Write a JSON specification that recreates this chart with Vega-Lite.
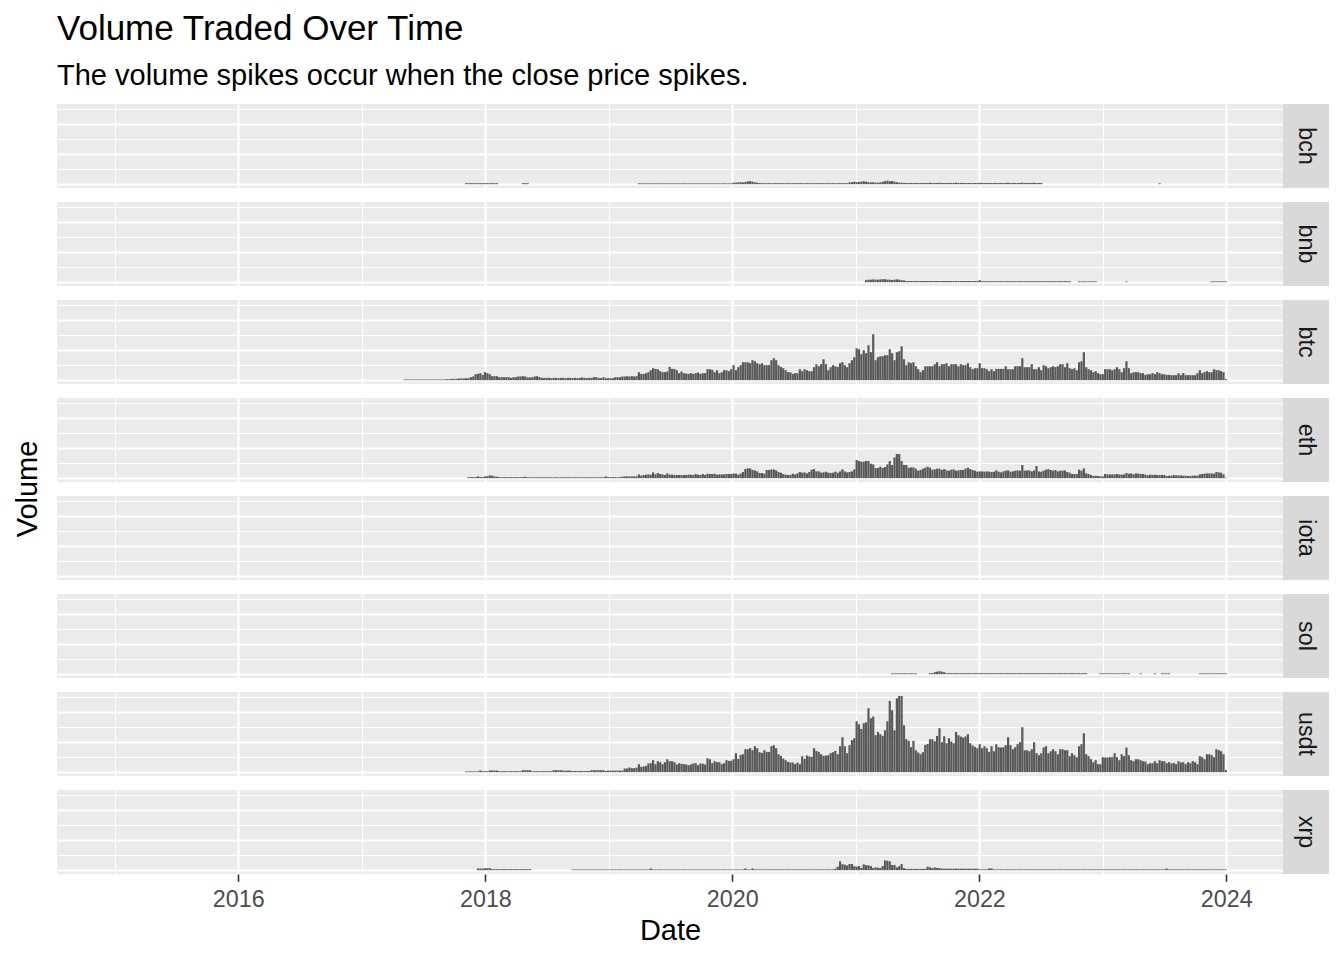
{
"$schema": "https://vega.github.io/schema/vega-lite/v6.json",
"padding": {"left": 13, "top": 12, "right": 15, "bottom": 10},
"title": {"text": "Volume Traded Over Time", "subtitle": "The volume spikes occur when the close price spikes.", "anchor": "start", "frame": "bounds", "dx": 44, "fontSize": 35, "fontWeight": "normal", "color": "#000000", "subtitleFontSize": 29, "subtitleColor": "#000000", "subtitlePadding": 15, "offset": 13},
"config": {
"font": "Liberation Sans",
"view": {"fill": "#EBEBEB", "stroke": null},
"axis": {"domain": false, "gridColor": "#FFFFFF", "labelColor": "#4D4D4D", "labelFontSize": 23.3, "tickColor": "#333333", "tickSize": 7.3, "tickWidth": 1.6, "labelPadding": 7, "labelFlush": false, "labelOverlap": false, "titleFontSize": 29, "titleFontWeight": "normal", "titleColor": "#000000", "titlePadding": 6}
},
"datasets": {
"bch": [{"d":"2017-11-05","v":1},{"d":"2017-11-12","v":1},{"d":"2017-11-19","v":1},{"d":"2017-11-26","v":1},{"d":"2017-12-03","v":1},{"d":"2017-12-10","v":1},{"d":"2017-12-17","v":1},{"d":"2017-12-24","v":1},{"d":"2017-12-31","v":1},{"d":"2018-01-07","v":1},{"d":"2018-01-14","v":1},{"d":"2018-01-21","v":1},{"d":"2018-01-28","v":1},{"d":"2018-02-04","v":1},
{"d":"2018-04-22","v":1},{"d":"2018-04-29","v":1},{"d":"2018-05-06","v":1},
{"d":"2019-03-31","v":0.8},{"d":"2019-04-07","v":0.8},{"d":"2019-04-14","v":0.8},{"d":"2019-04-21","v":0.8},{"d":"2019-04-28","v":0.8},{"d":"2019-05-05","v":0.8},{"d":"2019-05-12","v":0.8},{"d":"2019-05-19","v":0.8},{"d":"2019-05-26","v":0.8},{"d":"2019-06-02","v":0.8},{"d":"2019-06-09","v":0.8},{"d":"2019-06-16","v":0.8},{"d":"2019-06-23","v":0.8},{"d":"2019-06-30","v":0.8},{"d":"2019-07-07","v":0.8},{"d":"2019-07-14","v":0.8},{"d":"2019-07-21","v":0.8},{"d":"2019-07-28","v":0.8},{"d":"2019-08-04","v":0.8},{"d":"2019-08-11","v":0.8},{"d":"2019-08-18","v":0.8},{"d":"2019-08-25","v":0.8},{"d":"2019-09-01","v":0.8},{"d":"2019-09-08","v":0.8},{"d":"2019-09-15","v":0.8},{"d":"2019-09-22","v":0.8},{"d":"2019-09-29","v":0.8},{"d":"2019-10-06","v":0.8},{"d":"2019-10-13","v":0.8},{"d":"2019-10-20","v":0.8},{"d":"2019-10-27","v":0.8},{"d":"2019-11-03","v":0.8},{"d":"2019-11-10","v":0.8},{"d":"2019-11-17","v":0.8},{"d":"2019-11-24","v":0.8},{"d":"2019-12-01","v":0.8},{"d":"2019-12-08","v":0.8},{"d":"2019-12-15","v":0.8},{"d":"2019-12-22","v":0.8},{"d":"2019-12-29","v":0.8},
{"d":"2020-01-05","v":1.5},{"d":"2020-01-12","v":1.5},{"d":"2020-01-19","v":1.8},{"d":"2020-01-26","v":2},{"d":"2020-02-02","v":1.8},{"d":"2020-02-09","v":2.2},{"d":"2020-02-16","v":2.8},{"d":"2020-02-23","v":3},{"d":"2020-03-01","v":2.5},{"d":"2020-03-08","v":1.8},{"d":"2020-03-15","v":1.5},{"d":"2020-03-22","v":1.2},
{"d":"2020-03-29","v":1},{"d":"2020-04-05","v":1},{"d":"2020-04-12","v":1},{"d":"2020-04-19","v":1},{"d":"2020-04-26","v":1},{"d":"2020-05-03","v":1},{"d":"2020-05-10","v":1},{"d":"2020-05-17","v":1},{"d":"2020-05-24","v":1},{"d":"2020-05-31","v":1},{"d":"2020-06-07","v":1},{"d":"2020-06-14","v":1},{"d":"2020-06-21","v":1},{"d":"2020-06-28","v":1},{"d":"2020-07-05","v":1},{"d":"2020-07-12","v":1},{"d":"2020-07-19","v":1},{"d":"2020-07-26","v":1},{"d":"2020-08-02","v":1},{"d":"2020-08-09","v":1},{"d":"2020-08-16","v":1},{"d":"2020-08-23","v":1},{"d":"2020-08-30","v":1},{"d":"2020-09-06","v":1},{"d":"2020-09-13","v":1},{"d":"2020-09-20","v":1},{"d":"2020-09-27","v":1},{"d":"2020-10-04","v":1},{"d":"2020-10-11","v":1},{"d":"2020-10-18","v":1},{"d":"2020-10-25","v":1},{"d":"2020-11-01","v":1},{"d":"2020-11-08","v":1},{"d":"2020-11-15","v":1},{"d":"2020-11-22","v":1},{"d":"2020-11-29","v":1},{"d":"2020-12-06","v":1},
{"d":"2020-12-13","v":1.8},{"d":"2020-12-20","v":2},{"d":"2020-12-27","v":2.5},{"d":"2021-01-03","v":2},{"d":"2021-01-10","v":2.2},{"d":"2021-01-17","v":2.5},{"d":"2021-01-24","v":3},{"d":"2021-01-31","v":2.5},{"d":"2021-02-07","v":2},{"d":"2021-02-14","v":1.8},{"d":"2021-02-21","v":2},{"d":"2021-02-28","v":1.5},{"d":"2021-03-07","v":1.5},{"d":"2021-03-14","v":1.8},{"d":"2021-03-21","v":2.5},{"d":"2021-03-28","v":3},{"d":"2021-04-04","v":3.5},{"d":"2021-04-11","v":3},{"d":"2021-04-18","v":3.2},{"d":"2021-04-25","v":2.5},{"d":"2021-05-02","v":2},{"d":"2021-05-09","v":1.5},{"d":"2021-05-16","v":1.5},{"d":"2021-05-23","v":1.3},
{"d":"2021-05-30","v":1.2},{"d":"2021-06-06","v":1.2},{"d":"2021-06-13","v":1.2},{"d":"2021-06-20","v":1.2},{"d":"2021-06-27","v":1.2},{"d":"2021-07-04","v":1.2},{"d":"2021-07-11","v":1.2},{"d":"2021-07-18","v":1.2},{"d":"2021-07-25","v":1.2},{"d":"2021-08-01","v":1.2},{"d":"2021-08-08","v":1.5},{"d":"2021-08-15","v":1.2},{"d":"2021-08-22","v":1.2},{"d":"2021-08-29","v":1.2},{"d":"2021-09-05","v":1.5},{"d":"2021-09-12","v":1.2},{"d":"2021-09-19","v":1.2},{"d":"2021-09-26","v":1.2},{"d":"2021-10-03","v":1.2},{"d":"2021-10-10","v":1.2},{"d":"2021-10-17","v":1.2},{"d":"2021-10-24","v":1.5},{"d":"2021-10-31","v":1.2},{"d":"2021-11-07","v":1.2},{"d":"2021-11-14","v":1.2},{"d":"2021-11-21","v":1.2},{"d":"2021-11-28","v":1.2},{"d":"2021-12-05","v":1.2},{"d":"2021-12-12","v":1.2},{"d":"2021-12-19","v":1.2},{"d":"2021-12-26","v":1.2},{"d":"2022-01-02","v":1.5},{"d":"2022-01-09","v":1.2},{"d":"2022-01-16","v":1.2},{"d":"2022-01-23","v":1.2},{"d":"2022-01-30","v":1.2},{"d":"2022-02-06","v":1.2},{"d":"2022-02-13","v":1.2},{"d":"2022-02-20","v":1.2},{"d":"2022-02-27","v":1.2},{"d":"2022-03-06","v":1.2},{"d":"2022-03-13","v":1.2},{"d":"2022-03-20","v":1.2},{"d":"2022-03-27","v":1.5},{"d":"2022-04-03","v":1.2},{"d":"2022-04-10","v":1.2},{"d":"2022-04-17","v":1.2},{"d":"2022-04-24","v":1.2},{"d":"2022-05-01","v":1.2},{"d":"2022-05-08","v":1.5},{"d":"2022-05-15","v":1.2},{"d":"2022-05-22","v":1.2},{"d":"2022-05-29","v":1.2},{"d":"2022-06-05","v":1.2},{"d":"2022-06-12","v":1.5},{"d":"2022-06-19","v":1.2},{"d":"2022-06-26","v":1.2},{"d":"2022-07-03","v":1.2},
{"d":"2023-06-18","v":0.8}],
"bnb": [{"d":"2021-01-31","v":2},{"d":"2021-02-07","v":2.5},{"d":"2021-02-14","v":2.5},{"d":"2021-02-21","v":2.8},{"d":"2021-02-28","v":2.5},{"d":"2021-03-07","v":2.5},{"d":"2021-03-14","v":2.8},{"d":"2021-03-21","v":3},{"d":"2021-03-28","v":3},{"d":"2021-04-04","v":2.5},{"d":"2021-04-11","v":2.5},{"d":"2021-04-18","v":2.2},{"d":"2021-04-25","v":2.5},{"d":"2021-05-02","v":2.8},{"d":"2021-05-09","v":2.5},{"d":"2021-05-16","v":2},{"d":"2021-05-23","v":1.8},
{"d":"2021-05-30","v":1.2},{"d":"2021-06-06","v":1.2},{"d":"2021-06-13","v":1.2},{"d":"2021-06-20","v":1.2},{"d":"2021-06-27","v":1.2},{"d":"2021-07-04","v":1.2},{"d":"2021-07-11","v":1.2},{"d":"2021-07-18","v":1.2},{"d":"2021-07-25","v":1.2},{"d":"2021-08-01","v":1.2},{"d":"2021-08-08","v":1.2},{"d":"2021-08-15","v":1.2},{"d":"2021-08-22","v":1.2},{"d":"2021-08-29","v":1.2},{"d":"2021-09-05","v":1.2},{"d":"2021-09-12","v":1.2},{"d":"2021-09-19","v":1.2},{"d":"2021-09-26","v":1.2},{"d":"2021-10-03","v":1.2},{"d":"2021-10-10","v":1.2},{"d":"2021-10-17","v":1.2},{"d":"2021-10-24","v":1.2},{"d":"2021-10-31","v":1.2},{"d":"2021-11-07","v":1.2},{"d":"2021-11-14","v":1.2},{"d":"2021-11-21","v":1.2},{"d":"2021-11-28","v":1.2},{"d":"2021-12-05","v":1.2},{"d":"2021-12-12","v":1.2},{"d":"2021-12-19","v":1.2},{"d":"2021-12-26","v":1.2},
{"d":"2022-01-02","v":2},{"d":"2022-01-09","v":1},{"d":"2022-01-16","v":1},{"d":"2022-01-23","v":1},{"d":"2022-01-30","v":1},{"d":"2022-02-06","v":1},{"d":"2022-02-13","v":1},{"d":"2022-02-20","v":1},{"d":"2022-02-27","v":1},{"d":"2022-03-06","v":1},{"d":"2022-03-13","v":1},{"d":"2022-03-20","v":1},{"d":"2022-03-27","v":1},{"d":"2022-04-03","v":1},{"d":"2022-04-10","v":1},{"d":"2022-04-17","v":1},{"d":"2022-04-24","v":1},{"d":"2022-05-01","v":1},{"d":"2022-05-08","v":1},{"d":"2022-05-15","v":1},{"d":"2022-05-22","v":1},{"d":"2022-05-29","v":1},{"d":"2022-06-05","v":1},{"d":"2022-06-12","v":1},{"d":"2022-06-19","v":1},{"d":"2022-06-26","v":1},{"d":"2022-07-03","v":1},{"d":"2022-07-10","v":1},{"d":"2022-07-17","v":1},{"d":"2022-07-24","v":1},{"d":"2022-07-31","v":1},{"d":"2022-08-07","v":1},{"d":"2022-08-14","v":1},{"d":"2022-08-21","v":1},{"d":"2022-08-28","v":1},{"d":"2022-09-04","v":1},{"d":"2022-09-11","v":1},{"d":"2022-09-18","v":1},{"d":"2022-09-25","v":1},
{"d":"2022-10-23","v":0.8},{"d":"2022-10-30","v":0.8},{"d":"2022-11-06","v":0.8},{"d":"2022-11-13","v":0.8},{"d":"2022-11-20","v":0.8},{"d":"2022-11-27","v":0.8},{"d":"2022-12-04","v":0.8},{"d":"2022-12-11","v":0.8},
{"d":"2023-03-12","v":0.8},
{"d":"2023-11-19","v":0.8},{"d":"2023-11-26","v":0.8},{"d":"2023-12-03","v":0.8},{"d":"2023-12-10","v":0.8},{"d":"2023-12-17","v":0.8},{"d":"2023-12-24","v":0.8},{"d":"2023-12-31","v":0.8}],
"btc": [{"d":"2017-05-07","v":0.7},{"d":"2017-05-14","v":0.7},{"d":"2017-05-21","v":0.7},{"d":"2017-05-28","v":0.7},{"d":"2017-06-04","v":0.7},{"d":"2017-06-11","v":0.7},{"d":"2017-06-18","v":0.7},{"d":"2017-06-25","v":0.7},{"d":"2017-07-02","v":0.7},{"d":"2017-07-09","v":0.7},{"d":"2017-07-16","v":0.7},{"d":"2017-07-23","v":0.7},{"d":"2017-07-30","v":0.7},{"d":"2017-08-06","v":0.7},{"d":"2017-08-13","v":0.7},{"d":"2017-08-20","v":0.7},{"d":"2017-08-27","v":0.7},{"d":"2017-09-03","v":0.7},{"d":"2017-09-10","v":1},{"d":"2017-09-17","v":1},{"d":"2017-09-24","v":1.3},{"d":"2017-10-01","v":1.3},{"d":"2017-10-08","v":1.3},{"d":"2017-10-15","v":1.7},{"d":"2017-10-22","v":1.7},{"d":"2017-10-29","v":1.7},
{"d":"2017-11-05","v":2},{"d":"2017-11-12","v":2},{"d":"2017-11-19","v":3},{"d":"2017-11-26","v":3.7},{"d":"2017-12-03","v":6},{"d":"2017-12-10","v":6.3},{"d":"2017-12-17","v":7},{"d":"2017-12-24","v":5.3},{"d":"2017-12-31","v":8},
{"d":"2018-01-07","v":7},{"d":"2018-01-14","v":6},{"d":"2018-01-21","v":4},{"d":"2018-01-28","v":4},{"d":"2018-02-04","v":4},{"d":"2018-02-11","v":3},{"d":"2018-02-18","v":3},{"d":"2018-02-25","v":3},{"d":"2018-03-04","v":3},{"d":"2018-03-11","v":3},{"d":"2018-03-18","v":2.3},{"d":"2018-03-25","v":3},{"d":"2018-04-01","v":3},{"d":"2018-04-08","v":3.7},{"d":"2018-04-15","v":3.7},{"d":"2018-04-22","v":4},{"d":"2018-04-29","v":3.7},{"d":"2018-05-06","v":2.7},{"d":"2018-05-13","v":2.7},{"d":"2018-05-20","v":3},{"d":"2018-05-27","v":3.7},{"d":"2018-06-03","v":4},{"d":"2018-06-10","v":3},{"d":"2018-06-17","v":2.3},{"d":"2018-06-24","v":2.3},{"d":"2018-07-01","v":2.3},{"d":"2018-07-08","v":2.3},{"d":"2018-07-15","v":2},{"d":"2018-07-22","v":2.3},{"d":"2018-07-29","v":2.3},{"d":"2018-08-05","v":2},{"d":"2018-08-12","v":2.3},{"d":"2018-08-19","v":2.3},{"d":"2018-08-26","v":2},{"d":"2018-09-02","v":2.3},{"d":"2018-09-09","v":2.3},{"d":"2018-09-16","v":2},{"d":"2018-09-23","v":2.3},{"d":"2018-09-30","v":2},{"d":"2018-10-07","v":2.3},{"d":"2018-10-14","v":2.7},{"d":"2018-10-21","v":2.3},{"d":"2018-10-28","v":2},{"d":"2018-11-04","v":2.3},{"d":"2018-11-11","v":2.3},{"d":"2018-11-18","v":3},{"d":"2018-11-25","v":3},{"d":"2018-12-02","v":2.3},{"d":"2018-12-09","v":2},{"d":"2018-12-16","v":3},{"d":"2018-12-23","v":2},{"d":"2018-12-30","v":2},
{"d":"2019-01-06","v":2},{"d":"2019-01-13","v":2},{"d":"2019-01-20","v":3},{"d":"2019-01-27","v":3},{"d":"2019-02-03","v":3},{"d":"2019-02-10","v":3.7},{"d":"2019-02-17","v":3.7},{"d":"2019-02-24","v":4},{"d":"2019-03-03","v":3.7},{"d":"2019-03-10","v":4},{"d":"2019-03-17","v":3.7},{"d":"2019-03-24","v":4},{"d":"2019-03-31","v":8},{"d":"2019-04-07","v":6.3},{"d":"2019-04-14","v":6.3},{"d":"2019-04-21","v":7},{"d":"2019-04-28","v":8},{"d":"2019-05-05","v":10},{"d":"2019-05-12","v":12},{"d":"2019-05-19","v":11.3},{"d":"2019-05-26","v":11},{"d":"2019-06-02","v":9},{"d":"2019-06-09","v":8},{"d":"2019-06-16","v":8},{"d":"2019-06-23","v":8.7},{"d":"2019-06-30","v":13.3},{"d":"2019-07-07","v":11.3},{"d":"2019-07-14","v":11.3},{"d":"2019-07-21","v":10},{"d":"2019-07-28","v":7},{"d":"2019-08-04","v":8.7},{"d":"2019-08-11","v":7},{"d":"2019-08-18","v":6.7},{"d":"2019-08-25","v":6.3},{"d":"2019-09-01","v":7},{"d":"2019-09-08","v":6.3},{"d":"2019-09-15","v":7},{"d":"2019-09-22","v":7.7},{"d":"2019-09-29","v":6.3},{"d":"2019-10-06","v":7},{"d":"2019-10-13","v":7},{"d":"2019-10-20","v":11},{"d":"2019-10-27","v":11},{"d":"2019-11-03","v":10.3},{"d":"2019-11-10","v":8},{"d":"2019-11-17","v":10},{"d":"2019-11-24","v":7},{"d":"2019-12-01","v":8},{"d":"2019-12-08","v":10},{"d":"2019-12-15","v":10},{"d":"2019-12-22","v":9},{"d":"2019-12-29","v":11},
{"d":"2020-01-05","v":15},{"d":"2020-01-12","v":10},{"d":"2020-01-19","v":13},{"d":"2020-01-26","v":15},{"d":"2020-02-02","v":18},{"d":"2020-02-09","v":18},{"d":"2020-02-16","v":18},{"d":"2020-02-23","v":17},{"d":"2020-03-01","v":20},{"d":"2020-03-08","v":19},{"d":"2020-03-15","v":17},{"d":"2020-03-22","v":16},{"d":"2020-03-29","v":17},{"d":"2020-04-05","v":15},{"d":"2020-04-12","v":15},{"d":"2020-04-19","v":15},{"d":"2020-04-26","v":20},{"d":"2020-05-03","v":22},{"d":"2020-05-10","v":20},{"d":"2020-05-17","v":15},{"d":"2020-05-24","v":13.3},{"d":"2020-05-31","v":12},{"d":"2020-06-07","v":10},{"d":"2020-06-14","v":8},{"d":"2020-06-21","v":8},{"d":"2020-06-28","v":6.3},{"d":"2020-07-05","v":7},{"d":"2020-07-12","v":7},{"d":"2020-07-19","v":11},{"d":"2020-07-26","v":9},{"d":"2020-08-02","v":11},{"d":"2020-08-09","v":10},{"d":"2020-08-16","v":9},{"d":"2020-08-23","v":9},{"d":"2020-08-30","v":13},{"d":"2020-09-06","v":16},{"d":"2020-09-13","v":14},{"d":"2020-09-20","v":16},{"d":"2020-09-27","v":21},{"d":"2020-10-04","v":16},{"d":"2020-10-11","v":10},{"d":"2020-10-18","v":13},{"d":"2020-10-25","v":15},{"d":"2020-11-01","v":14},{"d":"2020-11-08","v":13.3},{"d":"2020-11-15","v":17},{"d":"2020-11-22","v":18},{"d":"2020-11-29","v":15},{"d":"2020-12-06","v":13},{"d":"2020-12-13","v":17},{"d":"2020-12-20","v":20},{"d":"2020-12-27","v":23},
{"d":"2021-01-03","v":32},{"d":"2021-01-10","v":31},{"d":"2021-01-17","v":26},{"d":"2021-01-24","v":30},{"d":"2021-01-31","v":27},{"d":"2021-02-07","v":35},{"d":"2021-02-14","v":28},{"d":"2021-02-21","v":46},{"d":"2021-02-28","v":20},{"d":"2021-03-07","v":23},{"d":"2021-03-14","v":24},{"d":"2021-03-21","v":24},{"d":"2021-03-28","v":25},{"d":"2021-04-04","v":25},{"d":"2021-04-11","v":31},{"d":"2021-04-18","v":27},{"d":"2021-04-25","v":20},{"d":"2021-05-02","v":28},{"d":"2021-05-09","v":29},{"d":"2021-05-16","v":34},{"d":"2021-05-23","v":21},{"d":"2021-05-30","v":15},{"d":"2021-06-06","v":18},{"d":"2021-06-13","v":17},{"d":"2021-06-20","v":18},{"d":"2021-06-27","v":14},{"d":"2021-07-04","v":11},{"d":"2021-07-11","v":8},{"d":"2021-07-18","v":10},{"d":"2021-07-25","v":14},{"d":"2021-08-01","v":14},{"d":"2021-08-08","v":14},{"d":"2021-08-15","v":14},{"d":"2021-08-22","v":16},{"d":"2021-08-29","v":18},{"d":"2021-09-05","v":14},{"d":"2021-09-12","v":16},{"d":"2021-09-19","v":16},{"d":"2021-09-26","v":17},{"d":"2021-10-03","v":14},{"d":"2021-10-10","v":16},{"d":"2021-10-17","v":16},{"d":"2021-10-24","v":16},{"d":"2021-10-31","v":14},{"d":"2021-11-07","v":16},{"d":"2021-11-14","v":15},{"d":"2021-11-21","v":15},{"d":"2021-11-28","v":17},{"d":"2021-12-05","v":13},{"d":"2021-12-12","v":11},{"d":"2021-12-19","v":12},{"d":"2021-12-26","v":12},
{"d":"2022-01-02","v":17},{"d":"2022-01-09","v":12},{"d":"2022-01-16","v":12},{"d":"2022-01-23","v":11},{"d":"2022-01-30","v":9},{"d":"2022-02-06","v":11},{"d":"2022-02-13","v":9},{"d":"2022-02-20","v":11.3},{"d":"2022-02-27","v":11.3},{"d":"2022-03-06","v":11.3},{"d":"2022-03-13","v":11.3},{"d":"2022-03-20","v":14},{"d":"2022-03-27","v":11},{"d":"2022-04-03","v":11},{"d":"2022-04-10","v":11},{"d":"2022-04-17","v":14},{"d":"2022-04-24","v":14},{"d":"2022-05-01","v":14},{"d":"2022-05-08","v":22},{"d":"2022-05-15","v":13},{"d":"2022-05-22","v":13},{"d":"2022-05-29","v":13},{"d":"2022-06-05","v":16},{"d":"2022-06-12","v":11},{"d":"2022-06-19","v":11},{"d":"2022-06-26","v":13},{"d":"2022-07-03","v":10},{"d":"2022-07-10","v":15},{"d":"2022-07-17","v":14},{"d":"2022-07-24","v":12},{"d":"2022-07-31","v":13},{"d":"2022-08-07","v":14},{"d":"2022-08-14","v":13},{"d":"2022-08-21","v":14},{"d":"2022-08-28","v":16},{"d":"2022-09-04","v":16},{"d":"2022-09-11","v":13},{"d":"2022-09-18","v":17},{"d":"2022-09-25","v":12},{"d":"2022-10-02","v":11},{"d":"2022-10-09","v":12},{"d":"2022-10-16","v":10},{"d":"2022-10-23","v":18},{"d":"2022-10-30","v":19},{"d":"2022-11-06","v":28},{"d":"2022-11-13","v":13},{"d":"2022-11-20","v":11},{"d":"2022-11-27","v":10},{"d":"2022-12-04","v":8},{"d":"2022-12-11","v":9},{"d":"2022-12-18","v":7},{"d":"2022-12-25","v":6},
{"d":"2023-01-01","v":6},{"d":"2023-01-08","v":11},{"d":"2023-01-15","v":11},{"d":"2023-01-22","v":11},{"d":"2023-01-29","v":10},{"d":"2023-02-05","v":11},{"d":"2023-02-12","v":13},{"d":"2023-02-19","v":11},{"d":"2023-02-26","v":8},{"d":"2023-03-05","v":12},{"d":"2023-03-12","v":19},{"d":"2023-03-19","v":12},{"d":"2023-03-26","v":7},{"d":"2023-04-02","v":8},{"d":"2023-04-09","v":8},{"d":"2023-04-16","v":8},{"d":"2023-04-23","v":7},{"d":"2023-04-30","v":7},{"d":"2023-05-07","v":5.3},{"d":"2023-05-14","v":6},{"d":"2023-05-21","v":6},{"d":"2023-05-28","v":7},{"d":"2023-06-04","v":6},{"d":"2023-06-11","v":8},{"d":"2023-06-18","v":7},{"d":"2023-06-25","v":6},{"d":"2023-07-02","v":6},{"d":"2023-07-09","v":5.3},{"d":"2023-07-16","v":5.3},{"d":"2023-07-23","v":5},{"d":"2023-07-30","v":5},{"d":"2023-08-06","v":5},{"d":"2023-08-13","v":7},{"d":"2023-08-20","v":5},{"d":"2023-08-27","v":7},{"d":"2023-09-03","v":5},{"d":"2023-09-10","v":5},{"d":"2023-09-17","v":5},{"d":"2023-09-24","v":5},{"d":"2023-10-01","v":5},{"d":"2023-10-08","v":7},{"d":"2023-10-15","v":10},{"d":"2023-10-22","v":7},{"d":"2023-10-29","v":8},{"d":"2023-11-05","v":9},{"d":"2023-11-12","v":8},{"d":"2023-11-19","v":8},{"d":"2023-11-26","v":11},{"d":"2023-12-03","v":10},{"d":"2023-12-10","v":10},{"d":"2023-12-17","v":9},{"d":"2023-12-24","v":8},{"d":"2023-12-31","v":1}],
"eth": [{"d":"2017-11-12","v":1},{"d":"2017-11-19","v":1},{"d":"2017-11-26","v":1},{"d":"2017-12-03","v":1.2},{"d":"2017-12-10","v":1.8},{"d":"2017-12-17","v":1.2},{"d":"2017-12-24","v":1},{"d":"2017-12-31","v":1.8},
{"d":"2018-01-07","v":2},{"d":"2018-01-14","v":2.8},{"d":"2018-01-21","v":2.5},{"d":"2018-01-28","v":1.8},{"d":"2018-02-04","v":1.5},{"d":"2018-02-11","v":1},{"d":"2018-02-18","v":1},{"d":"2018-02-25","v":1},{"d":"2018-03-04","v":1},{"d":"2018-03-11","v":1},{"d":"2018-03-18","v":1},{"d":"2018-03-25","v":1},{"d":"2018-04-01","v":1},{"d":"2018-04-08","v":1},{"d":"2018-04-15","v":1},{"d":"2018-04-22","v":1},{"d":"2018-04-29","v":1.5},{"d":"2018-05-06","v":0.9},{"d":"2018-05-13","v":0.9},{"d":"2018-05-20","v":0.9},{"d":"2018-05-27","v":0.9},{"d":"2018-06-03","v":0.9},{"d":"2018-06-10","v":0.9},{"d":"2018-06-17","v":0.9},{"d":"2018-06-24","v":0.9},{"d":"2018-07-01","v":0.9},{"d":"2018-07-08","v":0.9},{"d":"2018-07-15","v":0.9},{"d":"2018-07-22","v":0.9},{"d":"2018-07-29","v":0.9},{"d":"2018-08-05","v":0.9},{"d":"2018-08-12","v":0.9},{"d":"2018-08-19","v":0.9},{"d":"2018-08-26","v":0.9},{"d":"2018-09-02","v":0.9},{"d":"2018-09-09","v":0.9},{"d":"2018-09-16","v":0.9},{"d":"2018-09-23","v":0.9},{"d":"2018-09-30","v":0.9},{"d":"2018-10-07","v":0.9},{"d":"2018-10-14","v":0.9},{"d":"2018-10-21","v":0.9},{"d":"2018-10-28","v":0.9},{"d":"2018-11-04","v":0.9},{"d":"2018-11-11","v":0.9},{"d":"2018-11-18","v":0.9},{"d":"2018-11-25","v":0.9},{"d":"2018-12-02","v":0.9},{"d":"2018-12-09","v":0.9},{"d":"2018-12-16","v":0.9},{"d":"2018-12-23","v":1.8},{"d":"2018-12-30","v":1},
{"d":"2019-01-06","v":1},{"d":"2019-01-13","v":1},{"d":"2019-01-20","v":1},{"d":"2019-01-27","v":1},{"d":"2019-02-03","v":1},{"d":"2019-02-10","v":1.5},{"d":"2019-02-17","v":1.8},{"d":"2019-02-24","v":1.8},{"d":"2019-03-03","v":1.8},{"d":"2019-03-10","v":1.8},{"d":"2019-03-17","v":1.8},{"d":"2019-03-24","v":1.8},{"d":"2019-03-31","v":3.8},{"d":"2019-04-07","v":2.5},{"d":"2019-04-14","v":3.2},{"d":"2019-04-21","v":3.5},{"d":"2019-04-28","v":3.8},{"d":"2019-05-05","v":3.5},{"d":"2019-05-12","v":5.8},{"d":"2019-05-19","v":3.8},{"d":"2019-05-26","v":5.2},{"d":"2019-06-02","v":4.2},{"d":"2019-06-09","v":3.8},{"d":"2019-06-16","v":3.2},{"d":"2019-06-23","v":4.8},{"d":"2019-06-30","v":3.5},{"d":"2019-07-07","v":3.5},{"d":"2019-07-14","v":3.2},{"d":"2019-07-21","v":3.2},{"d":"2019-07-28","v":3.2},{"d":"2019-08-04","v":3.2},{"d":"2019-08-11","v":3.2},{"d":"2019-08-18","v":3.2},{"d":"2019-08-25","v":3.5},{"d":"2019-09-01","v":3.5},{"d":"2019-09-08","v":3.2},{"d":"2019-09-15","v":4.2},{"d":"2019-09-22","v":3.5},{"d":"2019-09-29","v":3.2},{"d":"2019-10-06","v":4.2},{"d":"2019-10-13","v":3.2},{"d":"2019-10-20","v":4.5},{"d":"2019-10-27","v":4.2},{"d":"2019-11-03","v":4.2},{"d":"2019-11-10","v":4.5},{"d":"2019-11-17","v":3.5},{"d":"2019-11-24","v":3.8},{"d":"2019-12-01","v":3.8},{"d":"2019-12-08","v":3.8},{"d":"2019-12-15","v":4.2},{"d":"2019-12-22","v":4.2},{"d":"2019-12-29","v":4.2},
{"d":"2020-01-05","v":4.8},{"d":"2020-01-12","v":4.5},{"d":"2020-01-19","v":3.5},{"d":"2020-01-26","v":4.5},{"d":"2020-02-02","v":6.2},{"d":"2020-02-09","v":9.2},{"d":"2020-02-16","v":9.8},{"d":"2020-02-23","v":9.8},{"d":"2020-03-01","v":8.2},{"d":"2020-03-08","v":7.8},{"d":"2020-03-15","v":6.8},{"d":"2020-03-22","v":5.2},{"d":"2020-03-29","v":5.2},{"d":"2020-04-05","v":4.5},{"d":"2020-04-12","v":8.2},{"d":"2020-04-19","v":8.2},{"d":"2020-04-26","v":8.8},{"d":"2020-05-03","v":8.8},{"d":"2020-05-10","v":7.8},{"d":"2020-05-17","v":6.2},{"d":"2020-05-24","v":5.5},{"d":"2020-05-31","v":4.2},{"d":"2020-06-07","v":3.5},{"d":"2020-06-14","v":3.2},{"d":"2020-06-21","v":3.2},{"d":"2020-06-28","v":4.5},{"d":"2020-07-05","v":3.8},{"d":"2020-07-12","v":4.8},{"d":"2020-07-19","v":6.2},{"d":"2020-07-26","v":5.5},{"d":"2020-08-02","v":5.8},{"d":"2020-08-09","v":4.8},{"d":"2020-08-16","v":6.2},{"d":"2020-08-23","v":8.5},{"d":"2020-08-30","v":9.2},{"d":"2020-09-06","v":6.8},{"d":"2020-09-13","v":6.8},{"d":"2020-09-20","v":5.5},{"d":"2020-09-27","v":5.8},{"d":"2020-10-04","v":6.5},{"d":"2020-10-11","v":5.5},{"d":"2020-10-18","v":5.2},{"d":"2020-10-25","v":5.5},{"d":"2020-11-01","v":6.5},{"d":"2020-11-08","v":5.5},{"d":"2020-11-15","v":6.8},{"d":"2020-11-22","v":8.8},{"d":"2020-11-29","v":6.8},{"d":"2020-12-06","v":5.8},{"d":"2020-12-13","v":6.2},{"d":"2020-12-20","v":6.8},{"d":"2020-12-27","v":8.8},
{"d":"2021-01-03","v":18.2},{"d":"2021-01-10","v":17.2},{"d":"2021-01-17","v":16.5},{"d":"2021-01-24","v":16.5},{"d":"2021-01-31","v":17.2},{"d":"2021-02-07","v":17.2},{"d":"2021-02-14","v":14.5},{"d":"2021-02-21","v":13.8},{"d":"2021-02-28","v":10.2},{"d":"2021-03-07","v":10.2},{"d":"2021-03-14","v":11.5},{"d":"2021-03-21","v":10.2},{"d":"2021-03-28","v":11.2},{"d":"2021-04-04","v":13.8},{"d":"2021-04-11","v":17.2},{"d":"2021-04-18","v":13.2},{"d":"2021-04-25","v":20.8},{"d":"2021-05-02","v":24.2},{"d":"2021-05-09","v":24.2},{"d":"2021-05-16","v":17.2},{"d":"2021-05-23","v":13.2},{"d":"2021-05-30","v":13.2},{"d":"2021-06-06","v":10.5},{"d":"2021-06-13","v":10.8},{"d":"2021-06-20","v":10.8},{"d":"2021-06-27","v":9.5},{"d":"2021-07-04","v":7.5},{"d":"2021-07-11","v":8.2},{"d":"2021-07-18","v":9.5},{"d":"2021-07-25","v":10.5},{"d":"2021-08-01","v":11.5},{"d":"2021-08-08","v":10.5},{"d":"2021-08-15","v":8.5},{"d":"2021-08-22","v":8.8},{"d":"2021-08-29","v":9.5},{"d":"2021-09-05","v":9.5},{"d":"2021-09-12","v":8.2},{"d":"2021-09-19","v":9.2},{"d":"2021-09-26","v":7.8},{"d":"2021-10-03","v":7.5},{"d":"2021-10-10","v":8.5},{"d":"2021-10-17","v":8.8},{"d":"2021-10-24","v":7.5},{"d":"2021-10-31","v":7.8},{"d":"2021-11-07","v":8.2},{"d":"2021-11-14","v":8.2},{"d":"2021-11-21","v":9.5},{"d":"2021-11-28","v":10.5},{"d":"2021-12-05","v":9.2},{"d":"2021-12-12","v":8.2},{"d":"2021-12-19","v":7.5},{"d":"2021-12-26","v":6.5},
{"d":"2022-01-02","v":6.8},{"d":"2022-01-09","v":6.8},{"d":"2022-01-16","v":6.5},{"d":"2022-01-23","v":6.8},{"d":"2022-01-30","v":6.5},{"d":"2022-02-06","v":6.2},{"d":"2022-02-13","v":6.5},{"d":"2022-02-20","v":7.8},{"d":"2022-02-27","v":6.5},{"d":"2022-03-06","v":5.8},{"d":"2022-03-13","v":6.8},{"d":"2022-03-20","v":7.5},{"d":"2022-03-27","v":7.8},{"d":"2022-04-03","v":6.5},{"d":"2022-04-10","v":6.8},{"d":"2022-04-17","v":7.5},{"d":"2022-04-24","v":7.8},{"d":"2022-05-01","v":7.5},{"d":"2022-05-08","v":13.2},{"d":"2022-05-15","v":7.5},{"d":"2022-05-22","v":7.8},{"d":"2022-05-29","v":7.8},{"d":"2022-06-05","v":6.8},{"d":"2022-06-12","v":7.8},{"d":"2022-06-19","v":12.2},{"d":"2022-06-26","v":6.8},{"d":"2022-07-03","v":6.5},{"d":"2022-07-10","v":7.5},{"d":"2022-07-17","v":8.5},{"d":"2022-07-24","v":9.2},{"d":"2022-07-31","v":8.2},{"d":"2022-08-07","v":7.5},{"d":"2022-08-14","v":8.2},{"d":"2022-08-21","v":6.8},{"d":"2022-08-28","v":7.5},{"d":"2022-09-04","v":7.5},{"d":"2022-09-11","v":7.8},{"d":"2022-09-18","v":6.2},{"d":"2022-09-25","v":5.5},{"d":"2022-10-02","v":4.2},{"d":"2022-10-09","v":4.2},{"d":"2022-10-16","v":4.2},{"d":"2022-10-23","v":8.5},{"d":"2022-10-30","v":7.5},{"d":"2022-11-06","v":9.8},{"d":"2022-11-13","v":4.8},{"d":"2022-11-20","v":4.2},{"d":"2022-11-27","v":3.2},{"d":"2022-12-04","v":2.2},{"d":"2022-12-11","v":2.5},{"d":"2022-12-18","v":2.2},{"d":"2022-12-25","v":1.8},
{"d":"2023-01-01","v":1.8},{"d":"2023-01-08","v":4.2},{"d":"2023-01-15","v":3.8},{"d":"2023-01-22","v":3.8},{"d":"2023-01-29","v":3.8},{"d":"2023-02-05","v":3.8},{"d":"2023-02-12","v":4.2},{"d":"2023-02-19","v":3.8},{"d":"2023-02-26","v":3.5},{"d":"2023-03-05","v":3.8},{"d":"2023-03-12","v":5.2},{"d":"2023-03-19","v":4.5},{"d":"2023-03-26","v":4.8},{"d":"2023-04-02","v":3.8},{"d":"2023-04-09","v":4.8},{"d":"2023-04-16","v":4.5},{"d":"2023-04-23","v":4.2},{"d":"2023-04-30","v":4.2},{"d":"2023-05-07","v":3.5},{"d":"2023-05-14","v":2.8},{"d":"2023-05-21","v":3.5},{"d":"2023-05-28","v":3.2},{"d":"2023-06-04","v":3.5},{"d":"2023-06-11","v":3.2},{"d":"2023-06-18","v":3.2},{"d":"2023-06-25","v":3.2},{"d":"2023-07-02","v":3.2},{"d":"2023-07-09","v":2.2},{"d":"2023-07-16","v":2.5},{"d":"2023-07-23","v":2.5},{"d":"2023-07-30","v":3.2},{"d":"2023-08-06","v":2.8},{"d":"2023-08-13","v":2.8},{"d":"2023-08-20","v":2.8},{"d":"2023-08-27","v":2.5},{"d":"2023-09-03","v":2.5},{"d":"2023-09-10","v":2.2},{"d":"2023-09-17","v":2.2},{"d":"2023-09-24","v":2.5},{"d":"2023-10-01","v":2.5},{"d":"2023-10-08","v":2.5},{"d":"2023-10-15","v":3.8},{"d":"2023-10-22","v":4.2},{"d":"2023-10-29","v":4.5},{"d":"2023-11-05","v":4.8},{"d":"2023-11-12","v":4.8},{"d":"2023-11-19","v":4.8},{"d":"2023-11-26","v":4.5},{"d":"2023-12-03","v":6.2},{"d":"2023-12-10","v":5.8},{"d":"2023-12-17","v":5.5},{"d":"2023-12-24","v":3.8},{"d":"2023-12-31","v":0.5}],
"iota": [{"d":"2015-01-04","v":0}],
"sol": [{"d":"2021-04-18","v":0.8},{"d":"2021-04-25","v":0.8},{"d":"2021-05-02","v":0.8},{"d":"2021-05-09","v":0.8},{"d":"2021-05-16","v":0.8},{"d":"2021-05-23","v":0.8},{"d":"2021-05-30","v":0.8},{"d":"2021-06-06","v":0.8},{"d":"2021-06-13","v":0.8},{"d":"2021-06-20","v":0.8},{"d":"2021-06-27","v":0.8},
{"d":"2021-08-08","v":1},{"d":"2021-08-15","v":1},{"d":"2021-08-22","v":2},{"d":"2021-08-29","v":2.5},{"d":"2021-09-05","v":3},{"d":"2021-09-12","v":2.5},{"d":"2021-09-19","v":2},{"d":"2021-09-26","v":1},{"d":"2021-10-03","v":1},{"d":"2021-10-10","v":1},{"d":"2021-10-17","v":1},{"d":"2021-10-24","v":1},{"d":"2021-10-31","v":1},{"d":"2021-11-07","v":1},{"d":"2021-11-14","v":1},{"d":"2021-11-21","v":1},{"d":"2021-11-28","v":1},{"d":"2021-12-05","v":1},{"d":"2021-12-12","v":1},{"d":"2021-12-19","v":1},{"d":"2021-12-26","v":1},{"d":"2022-01-02","v":1},{"d":"2022-01-09","v":1},{"d":"2022-01-16","v":1},{"d":"2022-01-23","v":1},{"d":"2022-01-30","v":1},{"d":"2022-02-06","v":1},{"d":"2022-02-13","v":1},{"d":"2022-02-20","v":1},{"d":"2022-02-27","v":1},{"d":"2022-03-06","v":1},{"d":"2022-03-13","v":1},{"d":"2022-03-20","v":1},{"d":"2022-03-27","v":1},{"d":"2022-04-03","v":1},{"d":"2022-04-10","v":1},{"d":"2022-04-17","v":1},{"d":"2022-04-24","v":1},{"d":"2022-05-01","v":1},{"d":"2022-05-08","v":1},{"d":"2022-05-15","v":1},{"d":"2022-05-22","v":1},{"d":"2022-05-29","v":1},{"d":"2022-06-05","v":1},{"d":"2022-06-12","v":1},{"d":"2022-06-19","v":1},{"d":"2022-06-26","v":1},{"d":"2022-07-03","v":1},{"d":"2022-07-10","v":1},{"d":"2022-07-17","v":1},{"d":"2022-07-24","v":1},{"d":"2022-07-31","v":1},{"d":"2022-08-07","v":1},{"d":"2022-08-14","v":1},{"d":"2022-08-21","v":1},{"d":"2022-08-28","v":1},{"d":"2022-09-04","v":1},{"d":"2022-09-11","v":1},{"d":"2022-09-18","v":1},{"d":"2022-09-25","v":1},{"d":"2022-10-02","v":1},{"d":"2022-10-09","v":1},{"d":"2022-10-16","v":1},{"d":"2022-10-23","v":1},{"d":"2022-10-30","v":1},{"d":"2022-11-06","v":1},{"d":"2022-11-13","v":1},
{"d":"2022-12-25","v":0.8},{"d":"2023-01-01","v":0.8},{"d":"2023-01-08","v":0.8},{"d":"2023-01-15","v":0.8},{"d":"2023-01-22","v":0.8},{"d":"2023-01-29","v":0.8},{"d":"2023-02-05","v":0.8},{"d":"2023-02-12","v":0.8},{"d":"2023-02-19","v":0.8},{"d":"2023-02-26","v":0.8},{"d":"2023-03-05","v":0.8},{"d":"2023-03-12","v":0.8},{"d":"2023-03-19","v":0.8},
{"d":"2023-04-23","v":0.8},{"d":"2023-06-04","v":0.8},{"d":"2023-06-25","v":0.8},{"d":"2023-07-02","v":0.8},{"d":"2023-07-09","v":0.8},{"d":"2023-07-16","v":0.8},
{"d":"2023-10-15","v":0.8},{"d":"2023-10-22","v":0.8},{"d":"2023-10-29","v":0.8},{"d":"2023-11-05","v":0.8},{"d":"2023-11-12","v":0.8},{"d":"2023-11-19","v":0.8},{"d":"2023-11-26","v":0.8},{"d":"2023-12-03","v":0.8},{"d":"2023-12-10","v":0.8},{"d":"2023-12-17","v":0.8},{"d":"2023-12-24","v":0.8},{"d":"2023-12-31","v":0.8}],
"usdt": [{"d":"2017-11-05","v":0.8},{"d":"2017-11-12","v":0.8},{"d":"2017-11-19","v":0.8},{"d":"2017-11-26","v":0.8},{"d":"2017-12-03","v":0.8},{"d":"2017-12-10","v":0.8},{"d":"2017-12-17","v":1.8},{"d":"2017-12-24","v":1},{"d":"2017-12-31","v":1},
{"d":"2018-01-07","v":1},{"d":"2018-01-14","v":1.7},{"d":"2018-01-21","v":1.7},{"d":"2018-01-28","v":1.7},{"d":"2018-02-04","v":1.7},{"d":"2018-02-11","v":1},{"d":"2018-02-18","v":1},{"d":"2018-02-25","v":1},{"d":"2018-03-04","v":1},{"d":"2018-03-11","v":1},{"d":"2018-03-18","v":1},{"d":"2018-03-25","v":1},{"d":"2018-04-01","v":1},{"d":"2018-04-08","v":1},{"d":"2018-04-15","v":1},{"d":"2018-04-22","v":2},{"d":"2018-04-29","v":2},{"d":"2018-05-06","v":2},{"d":"2018-05-13","v":2},{"d":"2018-05-20","v":1},{"d":"2018-05-27","v":1},{"d":"2018-06-03","v":1},{"d":"2018-06-10","v":1},{"d":"2018-06-17","v":1},{"d":"2018-06-24","v":1},{"d":"2018-07-01","v":1},{"d":"2018-07-08","v":1},{"d":"2018-07-15","v":1},{"d":"2018-07-22","v":2},{"d":"2018-07-29","v":2},{"d":"2018-08-05","v":2},{"d":"2018-08-12","v":2},{"d":"2018-08-19","v":1.6},{"d":"2018-08-26","v":1.6},{"d":"2018-09-02","v":1.6},{"d":"2018-09-09","v":1.6},{"d":"2018-09-16","v":1.2},{"d":"2018-09-23","v":1.2},{"d":"2018-09-30","v":1.2},{"d":"2018-10-07","v":1.2},{"d":"2018-10-14","v":1.2},{"d":"2018-10-21","v":1.2},{"d":"2018-10-28","v":1.2},{"d":"2018-11-04","v":1.2},{"d":"2018-11-11","v":2},{"d":"2018-11-18","v":2},{"d":"2018-11-25","v":2},{"d":"2018-12-02","v":2},{"d":"2018-12-09","v":2},{"d":"2018-12-16","v":2},{"d":"2018-12-23","v":1.2},{"d":"2018-12-30","v":1.6},
{"d":"2019-01-06","v":1.6},{"d":"2019-01-13","v":1.6},{"d":"2019-01-20","v":1.6},{"d":"2019-01-27","v":1.6},{"d":"2019-02-03","v":1.6},{"d":"2019-02-10","v":1.6},{"d":"2019-02-17","v":3.7},{"d":"2019-02-24","v":3.7},{"d":"2019-03-03","v":4.7},{"d":"2019-03-10","v":4},{"d":"2019-03-17","v":4},{"d":"2019-03-24","v":4.5},{"d":"2019-03-31","v":8},{"d":"2019-04-07","v":5.3},{"d":"2019-04-14","v":5.7},{"d":"2019-04-21","v":6.3},{"d":"2019-04-28","v":8.7},{"d":"2019-05-05","v":9},{"d":"2019-05-12","v":12},{"d":"2019-05-19","v":8},{"d":"2019-05-26","v":11},{"d":"2019-06-02","v":10},{"d":"2019-06-09","v":8},{"d":"2019-06-16","v":10},{"d":"2019-06-23","v":13},{"d":"2019-06-30","v":11},{"d":"2019-07-07","v":11},{"d":"2019-07-14","v":10},{"d":"2019-07-21","v":7.7},{"d":"2019-07-28","v":9},{"d":"2019-08-04","v":8.3},{"d":"2019-08-11","v":8},{"d":"2019-08-18","v":7.7},{"d":"2019-08-25","v":7},{"d":"2019-09-01","v":7.7},{"d":"2019-09-08","v":8.7},{"d":"2019-09-15","v":9},{"d":"2019-09-22","v":7},{"d":"2019-09-29","v":8.7},{"d":"2019-10-06","v":8.5},{"d":"2019-10-13","v":7.7},{"d":"2019-10-20","v":14},{"d":"2019-10-27","v":13},{"d":"2019-11-03","v":9},{"d":"2019-11-10","v":11},{"d":"2019-11-17","v":10},{"d":"2019-11-24","v":10},{"d":"2019-12-01","v":8},{"d":"2019-12-08","v":9},{"d":"2019-12-15","v":12},{"d":"2019-12-22","v":11.3},{"d":"2019-12-29","v":11.5},
{"d":"2020-01-05","v":13},{"d":"2020-01-12","v":19},{"d":"2020-01-19","v":13.3},{"d":"2020-01-26","v":17.3},{"d":"2020-02-02","v":18},{"d":"2020-02-09","v":23},{"d":"2020-02-16","v":23},{"d":"2020-02-23","v":24},{"d":"2020-03-01","v":22},{"d":"2020-03-08","v":26},{"d":"2020-03-15","v":24},{"d":"2020-03-22","v":20},{"d":"2020-03-29","v":19.3},{"d":"2020-04-05","v":22},{"d":"2020-04-12","v":20.3},{"d":"2020-04-19","v":20.3},{"d":"2020-04-26","v":26},{"d":"2020-05-03","v":27},{"d":"2020-05-10","v":24},{"d":"2020-05-17","v":18},{"d":"2020-05-24","v":16.3},{"d":"2020-05-31","v":13.7},{"d":"2020-06-07","v":12},{"d":"2020-06-14","v":10.3},{"d":"2020-06-21","v":9.7},{"d":"2020-06-28","v":9.7},{"d":"2020-07-05","v":8},{"d":"2020-07-12","v":9.7},{"d":"2020-07-19","v":8},{"d":"2020-07-26","v":16},{"d":"2020-08-02","v":13.3},{"d":"2020-08-09","v":16.7},{"d":"2020-08-16","v":15.7},{"d":"2020-08-23","v":15.3},{"d":"2020-08-30","v":24},{"d":"2020-09-06","v":21.3},{"d":"2020-09-13","v":20.3},{"d":"2020-09-20","v":18},{"d":"2020-09-27","v":16.3},{"d":"2020-10-04","v":16.7},{"d":"2020-10-11","v":17},{"d":"2020-10-18","v":19},{"d":"2020-10-25","v":20},{"d":"2020-11-01","v":21.3},{"d":"2020-11-08","v":18},{"d":"2020-11-15","v":26},{"d":"2020-11-22","v":35},{"d":"2020-11-29","v":26},{"d":"2020-12-06","v":19},{"d":"2020-12-13","v":27},{"d":"2020-12-20","v":32},{"d":"2020-12-27","v":34},
{"d":"2021-01-03","v":51},{"d":"2021-01-10","v":48},{"d":"2021-01-17","v":43.3},{"d":"2021-01-24","v":49},{"d":"2021-01-31","v":50},{"d":"2021-02-07","v":64},{"d":"2021-02-14","v":54},{"d":"2021-02-21","v":55.7},{"d":"2021-02-28","v":37},{"d":"2021-03-07","v":40.3},{"d":"2021-03-14","v":38},{"d":"2021-03-21","v":36.3},{"d":"2021-03-28","v":42},{"d":"2021-04-04","v":51},{"d":"2021-04-11","v":71.3},{"d":"2021-04-18","v":62},{"d":"2021-04-25","v":42},{"d":"2021-05-02","v":74},{"d":"2021-05-09","v":76.3},{"d":"2021-05-16","v":76.3},{"d":"2021-05-23","v":47},{"d":"2021-05-30","v":33},{"d":"2021-06-06","v":31.3},{"d":"2021-06-13","v":25},{"d":"2021-06-20","v":31.3},{"d":"2021-06-27","v":22},{"d":"2021-07-04","v":19.7},{"d":"2021-07-11","v":18},{"d":"2021-07-18","v":20},{"d":"2021-07-25","v":27.3},{"d":"2021-08-01","v":28.3},{"d":"2021-08-08","v":33},{"d":"2021-08-15","v":33},{"d":"2021-08-22","v":31},{"d":"2021-08-29","v":36.3},{"d":"2021-09-05","v":44},{"d":"2021-09-12","v":30},{"d":"2021-09-19","v":36},{"d":"2021-09-26","v":29},{"d":"2021-10-03","v":34},{"d":"2021-10-10","v":30.7},{"d":"2021-10-17","v":29},{"d":"2021-10-24","v":40.3},{"d":"2021-10-31","v":37},{"d":"2021-11-07","v":35.7},{"d":"2021-11-14","v":34.7},{"d":"2021-11-21","v":35.7},{"d":"2021-11-28","v":38},{"d":"2021-12-05","v":29},{"d":"2021-12-12","v":26.7},{"d":"2021-12-19","v":25.3},{"d":"2021-12-26","v":24},
{"d":"2022-01-02","v":28},{"d":"2022-01-09","v":24},{"d":"2022-01-16","v":26},{"d":"2022-01-23","v":24},{"d":"2022-01-30","v":20.3},{"d":"2022-02-06","v":26},{"d":"2022-02-13","v":21},{"d":"2022-02-20","v":28},{"d":"2022-02-27","v":25},{"d":"2022-03-06","v":24.7},{"d":"2022-03-13","v":25},{"d":"2022-03-20","v":27},{"d":"2022-03-27","v":35},{"d":"2022-04-03","v":27},{"d":"2022-04-10","v":23},{"d":"2022-04-17","v":25},{"d":"2022-04-24","v":28},{"d":"2022-05-01","v":30},{"d":"2022-05-08","v":45},{"d":"2022-05-15","v":22},{"d":"2022-05-22","v":22},{"d":"2022-05-29","v":21},{"d":"2022-06-05","v":23},{"d":"2022-06-12","v":30},{"d":"2022-06-19","v":19},{"d":"2022-06-26","v":17},{"d":"2022-07-03","v":19},{"d":"2022-07-10","v":24.7},{"d":"2022-07-17","v":26},{"d":"2022-07-24","v":19},{"d":"2022-07-31","v":21},{"d":"2022-08-07","v":23},{"d":"2022-08-14","v":21},{"d":"2022-08-21","v":18},{"d":"2022-08-28","v":23},{"d":"2022-09-04","v":23},{"d":"2022-09-11","v":22},{"d":"2022-09-18","v":22},{"d":"2022-09-25","v":16},{"d":"2022-10-02","v":19},{"d":"2022-10-09","v":17},{"d":"2022-10-16","v":15},{"d":"2022-10-23","v":26},{"d":"2022-10-30","v":28},{"d":"2022-11-06","v":39},{"d":"2022-11-13","v":18},{"d":"2022-11-20","v":16},{"d":"2022-11-27","v":13},{"d":"2022-12-04","v":10},{"d":"2022-12-11","v":12},{"d":"2022-12-18","v":8},{"d":"2022-12-25","v":8},
{"d":"2023-01-01","v":15},{"d":"2023-01-08","v":14.7},{"d":"2023-01-15","v":14.7},{"d":"2023-01-22","v":15},{"d":"2023-01-29","v":15},{"d":"2023-02-05","v":19},{"d":"2023-02-12","v":15},{"d":"2023-02-19","v":12},{"d":"2023-02-26","v":18},{"d":"2023-03-05","v":16},{"d":"2023-03-12","v":24.7},{"d":"2023-03-19","v":17},{"d":"2023-03-26","v":12},{"d":"2023-04-02","v":11},{"d":"2023-04-09","v":13},{"d":"2023-04-16","v":13},{"d":"2023-04-23","v":12},{"d":"2023-04-30","v":11},{"d":"2023-05-07","v":10.7},{"d":"2023-05-14","v":8},{"d":"2023-05-21","v":9},{"d":"2023-05-28","v":9},{"d":"2023-06-04","v":11},{"d":"2023-06-11","v":9},{"d":"2023-06-18","v":12},{"d":"2023-06-25","v":11},{"d":"2023-07-02","v":11},{"d":"2023-07-09","v":9},{"d":"2023-07-16","v":10},{"d":"2023-07-23","v":8.7},{"d":"2023-07-30","v":9.3},{"d":"2023-08-06","v":8},{"d":"2023-08-13","v":11},{"d":"2023-08-20","v":9.7},{"d":"2023-08-27","v":10},{"d":"2023-09-03","v":8},{"d":"2023-09-10","v":10},{"d":"2023-09-17","v":9},{"d":"2023-09-24","v":11},{"d":"2023-10-01","v":10},{"d":"2023-10-08","v":8},{"d":"2023-10-15","v":16},{"d":"2023-10-22","v":15},{"d":"2023-10-29","v":13},{"d":"2023-11-05","v":18},{"d":"2023-11-12","v":18},{"d":"2023-11-19","v":17},{"d":"2023-11-26","v":15},{"d":"2023-12-03","v":23},{"d":"2023-12-10","v":22},{"d":"2023-12-17","v":21},{"d":"2023-12-24","v":18},{"d":"2023-12-31","v":2}],
"xrp": [{"d":"2017-12-10","v":1.7},{"d":"2017-12-17","v":1.7},{"d":"2017-12-24","v":1.7},{"d":"2017-12-31","v":2},{"d":"2018-01-07","v":2},{"d":"2018-01-14","v":2},{"d":"2018-01-21","v":1},{"d":"2018-01-28","v":1},{"d":"2018-02-04","v":1},{"d":"2018-02-11","v":1},{"d":"2018-02-18","v":1},{"d":"2018-02-25","v":1},{"d":"2018-03-04","v":1},{"d":"2018-03-11","v":1},{"d":"2018-03-18","v":1},{"d":"2018-03-25","v":1},{"d":"2018-04-01","v":1},{"d":"2018-04-08","v":1},{"d":"2018-04-15","v":1},{"d":"2018-04-22","v":1},{"d":"2018-04-29","v":1},{"d":"2018-05-06","v":1},{"d":"2018-05-13","v":1},
{"d":"2018-09-16","v":0.7},{"d":"2018-09-23","v":0.7},{"d":"2018-09-30","v":0.7},{"d":"2018-10-07","v":0.7},{"d":"2018-10-14","v":0.7},{"d":"2018-10-21","v":0.7},{"d":"2018-10-28","v":0.7},{"d":"2018-11-04","v":0.7},{"d":"2018-11-11","v":0.7},{"d":"2018-11-18","v":0.7},{"d":"2018-11-25","v":0.7},{"d":"2018-12-02","v":0.7},{"d":"2018-12-09","v":0.7},{"d":"2018-12-16","v":0.7},{"d":"2018-12-23","v":0.7},{"d":"2018-12-30","v":0.7},{"d":"2019-01-06","v":0.7},{"d":"2019-01-13","v":0.7},{"d":"2019-01-20","v":0.7},{"d":"2019-01-27","v":0.7},{"d":"2019-02-03","v":0.7},{"d":"2019-02-10","v":0.7},{"d":"2019-02-17","v":0.7},{"d":"2019-02-24","v":0.7},{"d":"2019-03-03","v":0.7},{"d":"2019-03-10","v":0.7},{"d":"2019-03-17","v":0.7},{"d":"2019-03-24","v":0.7},{"d":"2019-03-31","v":0.7},{"d":"2019-04-07","v":0.7},{"d":"2019-04-14","v":0.7},{"d":"2019-04-21","v":0.7},{"d":"2019-04-28","v":0.7},{"d":"2019-05-05","v":1.7},{"d":"2019-05-12","v":0.7},{"d":"2019-05-19","v":0.7},{"d":"2019-05-26","v":0.7},{"d":"2019-06-02","v":0.7},{"d":"2019-06-09","v":0.7},{"d":"2019-06-16","v":0.7},{"d":"2019-06-23","v":0.7},{"d":"2019-06-30","v":0.7},{"d":"2019-07-07","v":0.7},{"d":"2019-07-14","v":0.7},{"d":"2019-07-21","v":0.7},{"d":"2019-07-28","v":0.7},{"d":"2019-08-04","v":0.7},{"d":"2019-08-11","v":0.7},{"d":"2019-08-18","v":0.7},{"d":"2019-08-25","v":0.7},{"d":"2019-09-01","v":0.7},{"d":"2019-09-08","v":0.7},{"d":"2019-09-15","v":0.7},{"d":"2019-09-22","v":0.7},{"d":"2019-09-29","v":0.7},{"d":"2019-10-06","v":0.7},{"d":"2019-10-13","v":0.7},{"d":"2019-10-20","v":0.7},{"d":"2019-10-27","v":0.7},{"d":"2019-11-03","v":0.7},{"d":"2019-11-10","v":0.7},{"d":"2019-11-17","v":0.7},{"d":"2019-11-24","v":0.7},{"d":"2019-12-01","v":0.7},{"d":"2019-12-08","v":0.7},{"d":"2019-12-15","v":0.7},{"d":"2019-12-22","v":0.7},{"d":"2019-12-29","v":0.7},{"d":"2020-01-05","v":0.7},{"d":"2020-01-12","v":0.7},{"d":"2020-01-19","v":0.7},{"d":"2020-01-26","v":0.7},{"d":"2020-02-02","v":0.7},{"d":"2020-02-09","v":1.7},{"d":"2020-02-16","v":0.7},{"d":"2020-02-23","v":0.7},{"d":"2020-03-01","v":1.7},{"d":"2020-03-08","v":0.8},{"d":"2020-03-15","v":0.8},{"d":"2020-03-22","v":0.8},{"d":"2020-03-29","v":0.8},{"d":"2020-04-05","v":0.8},{"d":"2020-04-12","v":0.8},{"d":"2020-04-19","v":0.8},{"d":"2020-04-26","v":0.8},{"d":"2020-05-03","v":0.8},{"d":"2020-05-10","v":0.8},{"d":"2020-05-17","v":0.8},{"d":"2020-05-24","v":0.8},{"d":"2020-05-31","v":0.8},{"d":"2020-06-07","v":0.8},{"d":"2020-06-14","v":0.8},{"d":"2020-06-21","v":0.8},{"d":"2020-06-28","v":0.8},{"d":"2020-07-05","v":0.8},{"d":"2020-07-12","v":0.8},{"d":"2020-07-19","v":0.8},{"d":"2020-07-26","v":0.8},{"d":"2020-08-02","v":0.8},{"d":"2020-08-09","v":0.8},{"d":"2020-08-16","v":0.8},{"d":"2020-08-23","v":0.8},{"d":"2020-08-30","v":0.8},{"d":"2020-09-06","v":0.8},{"d":"2020-09-13","v":0.8},{"d":"2020-09-20","v":0.8},{"d":"2020-09-27","v":0.8},{"d":"2020-10-04","v":0.8},{"d":"2020-10-11","v":0.8},{"d":"2020-10-18","v":0.8},{"d":"2020-10-25","v":0.8},
{"d":"2020-11-01","v":1.5},{"d":"2020-11-08","v":3.5},{"d":"2020-11-15","v":8.8},{"d":"2020-11-22","v":6},{"d":"2020-11-29","v":5.5},{"d":"2020-12-06","v":4.8},{"d":"2020-12-13","v":6.2},{"d":"2020-12-20","v":6.2},{"d":"2020-12-27","v":4},{"d":"2021-01-03","v":3.5},{"d":"2021-01-10","v":4.2},{"d":"2021-01-17","v":2.2},{"d":"2021-01-24","v":5.8},{"d":"2021-01-31","v":5},{"d":"2021-02-07","v":4.8},{"d":"2021-02-14","v":4.2},{"d":"2021-02-21","v":2.2},{"d":"2021-02-28","v":2.8},{"d":"2021-03-07","v":2.5},{"d":"2021-03-14","v":2.2},{"d":"2021-03-21","v":4.2},{"d":"2021-03-28","v":9.8},{"d":"2021-04-04","v":9.5},{"d":"2021-04-11","v":8.8},{"d":"2021-04-18","v":5.2},{"d":"2021-04-25","v":5.2},{"d":"2021-05-02","v":2.8},{"d":"2021-05-09","v":4},{"d":"2021-05-16","v":6.2},{"d":"2021-05-23","v":2.2},{"d":"2021-05-30","v":1.3},{"d":"2021-06-06","v":1.3},{"d":"2021-06-13","v":1.3},{"d":"2021-06-20","v":1.3},{"d":"2021-06-27","v":1.3},{"d":"2021-07-04","v":1.3},{"d":"2021-07-11","v":1.3},{"d":"2021-07-18","v":1.3},{"d":"2021-07-25","v":1.3},{"d":"2021-08-01","v":3.5},{"d":"2021-08-08","v":2.8},{"d":"2021-08-15","v":2.2},{"d":"2021-08-22","v":2.8},{"d":"2021-08-29","v":2.2},{"d":"2021-09-05","v":2.2},{"d":"2021-09-12","v":1.5},{"d":"2021-09-19","v":1.5},{"d":"2021-09-26","v":1.5},{"d":"2021-10-03","v":1.5},{"d":"2021-10-10","v":1.5},{"d":"2021-10-17","v":1.5},{"d":"2021-10-24","v":1.5},{"d":"2021-10-31","v":1.5},{"d":"2021-11-07","v":1.5},{"d":"2021-11-14","v":1.5},{"d":"2021-11-21","v":1.5},{"d":"2021-11-28","v":1.5},{"d":"2021-12-05","v":1.5},{"d":"2021-12-12","v":1.5},{"d":"2021-12-19","v":1.5},{"d":"2021-12-26","v":1.5},
{"d":"2022-01-02","v":0.8},{"d":"2022-01-09","v":0.8},{"d":"2022-01-16","v":0.8},{"d":"2022-01-23","v":0.8},{"d":"2022-01-30","v":1.8},{"d":"2022-02-06","v":1.8},{"d":"2022-02-13","v":0.8},{"d":"2022-02-20","v":0.8},{"d":"2022-02-27","v":0.8},{"d":"2022-03-06","v":0.8},{"d":"2022-03-13","v":0.8},{"d":"2022-03-20","v":0.8},{"d":"2022-03-27","v":0.8},{"d":"2022-04-03","v":0.8},{"d":"2022-04-10","v":0.8},{"d":"2022-04-17","v":0.8},{"d":"2022-04-24","v":0.8},{"d":"2022-05-01","v":0.8},{"d":"2022-05-08","v":0.8},{"d":"2022-05-15","v":0.8},{"d":"2022-05-22","v":0.8},{"d":"2022-05-29","v":0.8},{"d":"2022-06-05","v":0.8},{"d":"2022-06-12","v":0.8},{"d":"2022-06-19","v":0.8},{"d":"2022-06-26","v":0.8},{"d":"2022-07-03","v":0.8},{"d":"2022-07-10","v":0.8},{"d":"2022-07-17","v":0.8},{"d":"2022-07-24","v":0.8},{"d":"2022-07-31","v":0.8},{"d":"2022-08-07","v":0.8},{"d":"2022-08-14","v":0.8},{"d":"2022-08-21","v":0.8},{"d":"2022-08-28","v":0.8},{"d":"2022-09-04","v":0.8},{"d":"2022-09-11","v":0.8},{"d":"2022-09-18","v":0.8},{"d":"2022-09-25","v":0.8},{"d":"2022-10-02","v":0.8},{"d":"2022-10-09","v":0.8},{"d":"2022-10-16","v":0.8},{"d":"2022-10-23","v":0.8},{"d":"2022-10-30","v":0.8},{"d":"2022-11-06","v":0.8},{"d":"2022-11-13","v":0.8},{"d":"2022-11-20","v":0.8},{"d":"2022-11-27","v":0.8},{"d":"2022-12-04","v":0.8},{"d":"2022-12-11","v":0.8},{"d":"2022-12-18","v":0.8},{"d":"2022-12-25","v":0.8},{"d":"2023-01-01","v":0.8},{"d":"2023-01-08","v":0.8},{"d":"2023-01-15","v":0.8},{"d":"2023-01-22","v":0.8},{"d":"2023-01-29","v":0.8},{"d":"2023-02-05","v":0.8},{"d":"2023-02-12","v":0.8},{"d":"2023-02-19","v":0.8},{"d":"2023-02-26","v":0.8},{"d":"2023-03-05","v":0.8},{"d":"2023-03-12","v":0.8},{"d":"2023-03-19","v":0.8},{"d":"2023-03-26","v":0.8},{"d":"2023-04-02","v":0.8},{"d":"2023-04-09","v":0.8},{"d":"2023-04-16","v":0.8},{"d":"2023-04-23","v":0.8},{"d":"2023-04-30","v":0.8},{"d":"2023-05-07","v":0.8},{"d":"2023-05-14","v":0.8},{"d":"2023-05-21","v":0.8},{"d":"2023-05-28","v":0.8},{"d":"2023-06-04","v":0.8},{"d":"2023-06-11","v":0.8},{"d":"2023-06-18","v":0.8},{"d":"2023-06-25","v":0.8},{"d":"2023-07-02","v":0.8},{"d":"2023-07-09","v":1.7},{"d":"2023-07-16","v":0.8},{"d":"2023-07-23","v":0.8},{"d":"2023-07-30","v":0.8},{"d":"2023-08-06","v":0.8},{"d":"2023-08-13","v":0.8},{"d":"2023-08-20","v":0.8},{"d":"2023-08-27","v":0.8},{"d":"2023-09-03","v":0.8},{"d":"2023-09-10","v":0.8},{"d":"2023-09-17","v":0.8},{"d":"2023-09-24","v":0.8},{"d":"2023-10-01","v":0.8},{"d":"2023-10-08","v":0.8},{"d":"2023-10-15","v":0.8},{"d":"2023-10-22","v":0.8},{"d":"2023-10-29","v":0.8},{"d":"2023-11-05","v":0.8},{"d":"2023-11-12","v":0.8},{"d":"2023-11-19","v":0.8},{"d":"2023-11-26","v":0.8},{"d":"2023-12-03","v":0.8},{"d":"2023-12-10","v":0.8},{"d":"2023-12-17","v":0.8},{"d":"2023-12-24","v":0.8},{"d":"2023-12-31","v":0.8}]
},
"spacing": 14,
"hconcat": [
{"width": 30, "height": 770, "view": {"fill": "transparent"}, "data": {"values": [{"t": "Volume"}]}, "mark": {"type": "text", "angle": 270, "fontSize": 29, "color": "#000000"}, "encoding": {"text": {"field": "t"}}},
{"spacing": 14, "vconcat": [
{"spacing": 0, "bounds": "flush", "hconcat": [
{"data": {"name": "bch"}, "width": 1226, "height": 84, "mark": {"type": "bar", "color": "#595959", "size": 2.2},
"encoding": {"x": {"field": "d", "type": "temporal", "scale": {"type": "utc", "padding": 0, "domain": [{"year": 2014, "month": 7, "date": 14, "utc": true}, {"year": 2024, "month": 6, "date": 17, "utc": true}]}, "axis": {"values": [{"year":2015,"month":1,"date":1,"utc":true},{"year":2016,"month":1,"date":1,"utc":true},{"year":2017,"month":1,"date":1,"utc":true},{"year":2018,"month":1,"date":1,"utc":true},{"year":2019,"month":1,"date":1,"utc":true},{"year":2020,"month":1,"date":1,"utc":true},{"year":2021,"month":1,"date":1,"utc":true},{"year":2022,"month":1,"date":1,"utc":true},{"year":2023,"month":1,"date":1,"utc":true},{"year":2024,"month":1,"date":1,"utc":true}], "labels": false, "ticks": false, "title": null, "gridWidth": {"condition": {"test": "utcyear(datum.value) % 2 === 0", "value": 2}, "value": 1}}},
"y": {"field": "v", "type": "quantitative", "scale": {"domain": [-3.825, 80.325], "nice": false, "zero": false}, "axis": {"values": [0, 15, 30, 45, 60, 75], "labels": false, "ticks": false, "title": null, "gridWidth": {"condition": {"test": "datum.value % 30 === 0", "value": 2}, "value": 1}}}}},
{"width": 46, "height": 84, "view": {"fill": "#D9D9D9"}, "data": {"values": [{"c": "bch"}]}, "mark": {"type": "text", "angle": 90, "fontSize": 23.3, "color": "#1A1A1A"}, "encoding": {"text": {"field": "c"}}}
]},
{"spacing": 0, "bounds": "flush", "hconcat": [
{"data": {"name": "bnb"}, "width": 1226, "height": 84, "mark": {"type": "bar", "color": "#595959", "size": 2.2},
"encoding": {"x": {"field": "d", "type": "temporal", "scale": {"type": "utc", "padding": 0, "domain": [{"year": 2014, "month": 7, "date": 14, "utc": true}, {"year": 2024, "month": 6, "date": 17, "utc": true}]}, "axis": {"values": [{"year":2015,"month":1,"date":1,"utc":true},{"year":2016,"month":1,"date":1,"utc":true},{"year":2017,"month":1,"date":1,"utc":true},{"year":2018,"month":1,"date":1,"utc":true},{"year":2019,"month":1,"date":1,"utc":true},{"year":2020,"month":1,"date":1,"utc":true},{"year":2021,"month":1,"date":1,"utc":true},{"year":2022,"month":1,"date":1,"utc":true},{"year":2023,"month":1,"date":1,"utc":true},{"year":2024,"month":1,"date":1,"utc":true}], "labels": false, "ticks": false, "title": null, "gridWidth": {"condition": {"test": "utcyear(datum.value) % 2 === 0", "value": 2}, "value": 1}}},
"y": {"field": "v", "type": "quantitative", "scale": {"domain": [-3.825, 80.325], "nice": false, "zero": false}, "axis": {"values": [0, 15, 30, 45, 60, 75], "labels": false, "ticks": false, "title": null, "gridWidth": {"condition": {"test": "datum.value % 30 === 0", "value": 2}, "value": 1}}}}},
{"width": 46, "height": 84, "view": {"fill": "#D9D9D9"}, "data": {"values": [{"c": "bnb"}]}, "mark": {"type": "text", "angle": 90, "fontSize": 23.3, "color": "#1A1A1A"}, "encoding": {"text": {"field": "c"}}}
]},
{"spacing": 0, "bounds": "flush", "hconcat": [
{"data": {"name": "btc"}, "width": 1226, "height": 84, "mark": {"type": "bar", "color": "#595959", "size": 2.2},
"encoding": {"x": {"field": "d", "type": "temporal", "scale": {"type": "utc", "padding": 0, "domain": [{"year": 2014, "month": 7, "date": 14, "utc": true}, {"year": 2024, "month": 6, "date": 17, "utc": true}]}, "axis": {"values": [{"year":2015,"month":1,"date":1,"utc":true},{"year":2016,"month":1,"date":1,"utc":true},{"year":2017,"month":1,"date":1,"utc":true},{"year":2018,"month":1,"date":1,"utc":true},{"year":2019,"month":1,"date":1,"utc":true},{"year":2020,"month":1,"date":1,"utc":true},{"year":2021,"month":1,"date":1,"utc":true},{"year":2022,"month":1,"date":1,"utc":true},{"year":2023,"month":1,"date":1,"utc":true},{"year":2024,"month":1,"date":1,"utc":true}], "labels": false, "ticks": false, "title": null, "gridWidth": {"condition": {"test": "utcyear(datum.value) % 2 === 0", "value": 2}, "value": 1}}},
"y": {"field": "v", "type": "quantitative", "scale": {"domain": [-3.825, 80.325], "nice": false, "zero": false}, "axis": {"values": [0, 15, 30, 45, 60, 75], "labels": false, "ticks": false, "title": null, "gridWidth": {"condition": {"test": "datum.value % 30 === 0", "value": 2}, "value": 1}}}}},
{"width": 46, "height": 84, "view": {"fill": "#D9D9D9"}, "data": {"values": [{"c": "btc"}]}, "mark": {"type": "text", "angle": 90, "fontSize": 23.3, "color": "#1A1A1A"}, "encoding": {"text": {"field": "c"}}}
]},
{"spacing": 0, "bounds": "flush", "hconcat": [
{"data": {"name": "eth"}, "width": 1226, "height": 84, "mark": {"type": "bar", "color": "#595959", "size": 2.2},
"encoding": {"x": {"field": "d", "type": "temporal", "scale": {"type": "utc", "padding": 0, "domain": [{"year": 2014, "month": 7, "date": 14, "utc": true}, {"year": 2024, "month": 6, "date": 17, "utc": true}]}, "axis": {"values": [{"year":2015,"month":1,"date":1,"utc":true},{"year":2016,"month":1,"date":1,"utc":true},{"year":2017,"month":1,"date":1,"utc":true},{"year":2018,"month":1,"date":1,"utc":true},{"year":2019,"month":1,"date":1,"utc":true},{"year":2020,"month":1,"date":1,"utc":true},{"year":2021,"month":1,"date":1,"utc":true},{"year":2022,"month":1,"date":1,"utc":true},{"year":2023,"month":1,"date":1,"utc":true},{"year":2024,"month":1,"date":1,"utc":true}], "labels": false, "ticks": false, "title": null, "gridWidth": {"condition": {"test": "utcyear(datum.value) % 2 === 0", "value": 2}, "value": 1}}},
"y": {"field": "v", "type": "quantitative", "scale": {"domain": [-3.825, 80.325], "nice": false, "zero": false}, "axis": {"values": [0, 15, 30, 45, 60, 75], "labels": false, "ticks": false, "title": null, "gridWidth": {"condition": {"test": "datum.value % 30 === 0", "value": 2}, "value": 1}}}}},
{"width": 46, "height": 84, "view": {"fill": "#D9D9D9"}, "data": {"values": [{"c": "eth"}]}, "mark": {"type": "text", "angle": 90, "fontSize": 23.3, "color": "#1A1A1A"}, "encoding": {"text": {"field": "c"}}}
]},
{"spacing": 0, "bounds": "flush", "hconcat": [
{"data": {"name": "iota"}, "width": 1226, "height": 84, "mark": {"type": "bar", "color": "#595959", "size": 2.2},
"encoding": {"x": {"field": "d", "type": "temporal", "scale": {"type": "utc", "padding": 0, "domain": [{"year": 2014, "month": 7, "date": 14, "utc": true}, {"year": 2024, "month": 6, "date": 17, "utc": true}]}, "axis": {"values": [{"year":2015,"month":1,"date":1,"utc":true},{"year":2016,"month":1,"date":1,"utc":true},{"year":2017,"month":1,"date":1,"utc":true},{"year":2018,"month":1,"date":1,"utc":true},{"year":2019,"month":1,"date":1,"utc":true},{"year":2020,"month":1,"date":1,"utc":true},{"year":2021,"month":1,"date":1,"utc":true},{"year":2022,"month":1,"date":1,"utc":true},{"year":2023,"month":1,"date":1,"utc":true},{"year":2024,"month":1,"date":1,"utc":true}], "labels": false, "ticks": false, "title": null, "gridWidth": {"condition": {"test": "utcyear(datum.value) % 2 === 0", "value": 2}, "value": 1}}},
"y": {"field": "v", "type": "quantitative", "scale": {"domain": [-3.825, 80.325], "nice": false, "zero": false}, "axis": {"values": [0, 15, 30, 45, 60, 75], "labels": false, "ticks": false, "title": null, "gridWidth": {"condition": {"test": "datum.value % 30 === 0", "value": 2}, "value": 1}}}}},
{"width": 46, "height": 84, "view": {"fill": "#D9D9D9"}, "data": {"values": [{"c": "iota"}]}, "mark": {"type": "text", "angle": 90, "fontSize": 23.3, "color": "#1A1A1A"}, "encoding": {"text": {"field": "c"}}}
]},
{"spacing": 0, "bounds": "flush", "hconcat": [
{"data": {"name": "sol"}, "width": 1226, "height": 84, "mark": {"type": "bar", "color": "#595959", "size": 2.2},
"encoding": {"x": {"field": "d", "type": "temporal", "scale": {"type": "utc", "padding": 0, "domain": [{"year": 2014, "month": 7, "date": 14, "utc": true}, {"year": 2024, "month": 6, "date": 17, "utc": true}]}, "axis": {"values": [{"year":2015,"month":1,"date":1,"utc":true},{"year":2016,"month":1,"date":1,"utc":true},{"year":2017,"month":1,"date":1,"utc":true},{"year":2018,"month":1,"date":1,"utc":true},{"year":2019,"month":1,"date":1,"utc":true},{"year":2020,"month":1,"date":1,"utc":true},{"year":2021,"month":1,"date":1,"utc":true},{"year":2022,"month":1,"date":1,"utc":true},{"year":2023,"month":1,"date":1,"utc":true},{"year":2024,"month":1,"date":1,"utc":true}], "labels": false, "ticks": false, "title": null, "gridWidth": {"condition": {"test": "utcyear(datum.value) % 2 === 0", "value": 2}, "value": 1}}},
"y": {"field": "v", "type": "quantitative", "scale": {"domain": [-3.825, 80.325], "nice": false, "zero": false}, "axis": {"values": [0, 15, 30, 45, 60, 75], "labels": false, "ticks": false, "title": null, "gridWidth": {"condition": {"test": "datum.value % 30 === 0", "value": 2}, "value": 1}}}}},
{"width": 46, "height": 84, "view": {"fill": "#D9D9D9"}, "data": {"values": [{"c": "sol"}]}, "mark": {"type": "text", "angle": 90, "fontSize": 23.3, "color": "#1A1A1A"}, "encoding": {"text": {"field": "c"}}}
]},
{"spacing": 0, "bounds": "flush", "hconcat": [
{"data": {"name": "usdt"}, "width": 1226, "height": 84, "mark": {"type": "bar", "color": "#595959", "size": 2.2},
"encoding": {"x": {"field": "d", "type": "temporal", "scale": {"type": "utc", "padding": 0, "domain": [{"year": 2014, "month": 7, "date": 14, "utc": true}, {"year": 2024, "month": 6, "date": 17, "utc": true}]}, "axis": {"values": [{"year":2015,"month":1,"date":1,"utc":true},{"year":2016,"month":1,"date":1,"utc":true},{"year":2017,"month":1,"date":1,"utc":true},{"year":2018,"month":1,"date":1,"utc":true},{"year":2019,"month":1,"date":1,"utc":true},{"year":2020,"month":1,"date":1,"utc":true},{"year":2021,"month":1,"date":1,"utc":true},{"year":2022,"month":1,"date":1,"utc":true},{"year":2023,"month":1,"date":1,"utc":true},{"year":2024,"month":1,"date":1,"utc":true}], "labels": false, "ticks": false, "title": null, "gridWidth": {"condition": {"test": "utcyear(datum.value) % 2 === 0", "value": 2}, "value": 1}}},
"y": {"field": "v", "type": "quantitative", "scale": {"domain": [-3.825, 80.325], "nice": false, "zero": false}, "axis": {"values": [0, 15, 30, 45, 60, 75], "labels": false, "ticks": false, "title": null, "gridWidth": {"condition": {"test": "datum.value % 30 === 0", "value": 2}, "value": 1}}}}},
{"width": 46, "height": 84, "view": {"fill": "#D9D9D9"}, "data": {"values": [{"c": "usdt"}]}, "mark": {"type": "text", "angle": 90, "fontSize": 23.3, "color": "#1A1A1A"}, "encoding": {"text": {"field": "c"}}}
]},
{"spacing": 0, "bounds": "flush", "hconcat": [
{"data": {"name": "xrp"}, "width": 1226, "height": 84, "mark": {"type": "bar", "color": "#595959", "size": 2.2},
"encoding": {"x": {"field": "d", "type": "temporal", "title": "Date", "scale": {"type": "utc", "padding": 0, "domain": [{"year": 2014, "month": 7, "date": 14, "utc": true}, {"year": 2024, "month": 6, "date": 17, "utc": true}]}, "axis": {"values": [{"year":2015,"month":1,"date":1,"utc":true},{"year":2016,"month":1,"date":1,"utc":true},{"year":2017,"month":1,"date":1,"utc":true},{"year":2018,"month":1,"date":1,"utc":true},{"year":2019,"month":1,"date":1,"utc":true},{"year":2020,"month":1,"date":1,"utc":true},{"year":2021,"month":1,"date":1,"utc":true},{"year":2022,"month":1,"date":1,"utc":true},{"year":2023,"month":1,"date":1,"utc":true},{"year":2024,"month":1,"date":1,"utc":true}], "labelExpr": "utcyear(datum.value) % 2 === 0 ? utcFormat(datum.value, '%Y') : ''", "tickOpacity": {"condition": {"test": "utcyear(datum.value) % 2 === 0", "value": 1}, "value": 0}, "gridWidth": {"condition": {"test": "utcyear(datum.value) % 2 === 0", "value": 2}, "value": 1}}},
"y": {"field": "v", "type": "quantitative", "scale": {"domain": [-3.825, 80.325], "nice": false, "zero": false}, "axis": {"values": [0, 15, 30, 45, 60, 75], "labels": false, "ticks": false, "title": null, "gridWidth": {"condition": {"test": "datum.value % 30 === 0", "value": 2}, "value": 1}}}}},
{"width": 46, "height": 84, "view": {"fill": "#D9D9D9"}, "data": {"values": [{"c": "xrp"}]}, "mark": {"type": "text", "angle": 90, "fontSize": 23.3, "color": "#1A1A1A"}, "encoding": {"text": {"field": "c"}}}
]}
]}
]
}
